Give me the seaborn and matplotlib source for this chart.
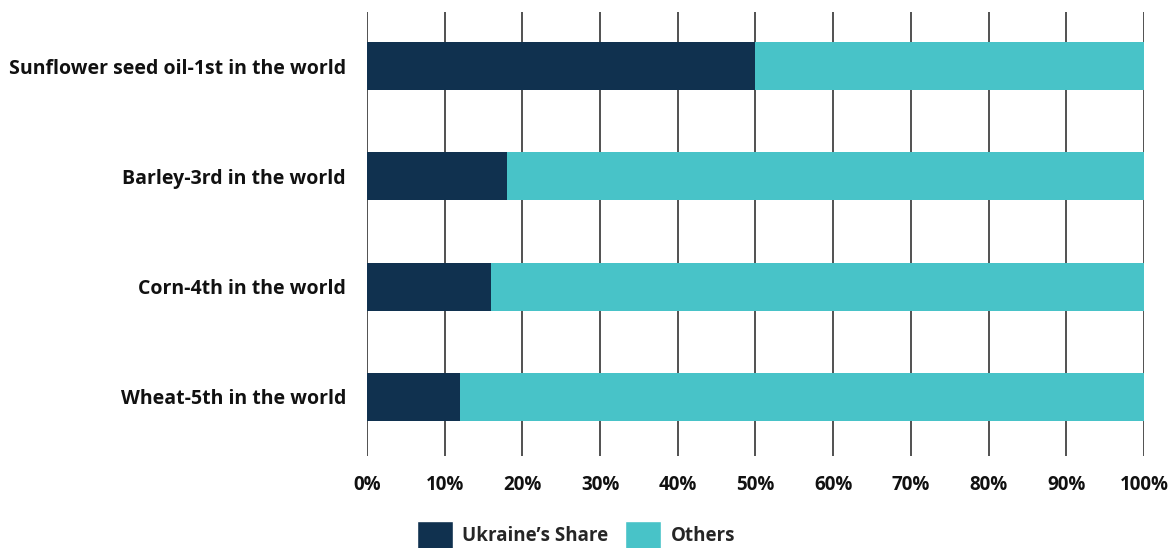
import matplotlib
matplotlib.use("Agg")
import matplotlib.pyplot as plt
from matplotlib.patches import Patch
import seaborn as sns
import pandas as pd

categories = [
    "Sunflower seed oil-1st in the world",
    "Barley-3rd in the world",
    "Corn-4th in the world",
    "Wheat-5th in the world",
]
ukraine_share = [50, 18, 16, 12]
others = [100 - v for v in ukraine_share]
x_ticks = list(range(0, 101, 10))
x_tick_labels = [f"{t}%" for t in x_ticks]

navy = "#10314f"
teal = "#48c3c8"

df = pd.DataFrame({
    "crop": categories,
    "ukraine": ukraine_share,
    "total": [u + o for u, o in zip(ukraine_share, others)],
})

sns.set_theme(style="white")
plt.rcParams["font.family"] = ["Open Sans", "DejaVu Sans"]

fig = plt.figure(figsize=(11.76, 5.48), dpi=100)
ax = fig.add_axes([0.312, 0.168, 0.6608, 0.81])

sns.barplot(data=df, y="crop", x="total", color=teal, orient="h",
            width=0.435, ax=ax, zorder=3, saturation=1, linewidth=0)
sns.barplot(data=df, y="crop", x="ukraine", color=navy, orient="h",
            width=0.435, ax=ax, zorder=4, saturation=1, linewidth=0)

ax.set_xlim(0, 100)
ax.set_ylim(3.535, -0.49)
ax.set_xticks(x_ticks)
ax.set_xticklabels(x_tick_labels, fontsize=13.5, fontweight="bold", color="#111111")
ax.tick_params(axis="y", labelsize=14, colors="#111111", length=0, pad=15)
for lbl in ax.get_yticklabels():
    lbl.set_fontweight("bold")
ax.tick_params(axis="x", length=0, pad=14)
ax.set_xlabel("")
ax.set_ylabel("")
for s in ax.spines.values():
    s.set_visible(False)
ax.grid(axis="x", color="#333333", linewidth=1.2, zorder=0)
ax.grid(axis="y", visible=False)
ax.set_axisbelow(True)

handles = [Patch(facecolor=navy, label="Ukraine\u2019s Share"),
           Patch(facecolor=teal, label="Others")]
leg = fig.legend(handles=handles, loc="lower center", ncol=2,
                 bbox_to_anchor=(0.49, -0.032), frameon=False,
                 handlelength=1.9, handleheight=1.9, handletextpad=0.5,
                 columnspacing=0.9,
                 prop={"size": 13.5, "weight": "bold"})

fig.savefig("out.png", dpi=100)
